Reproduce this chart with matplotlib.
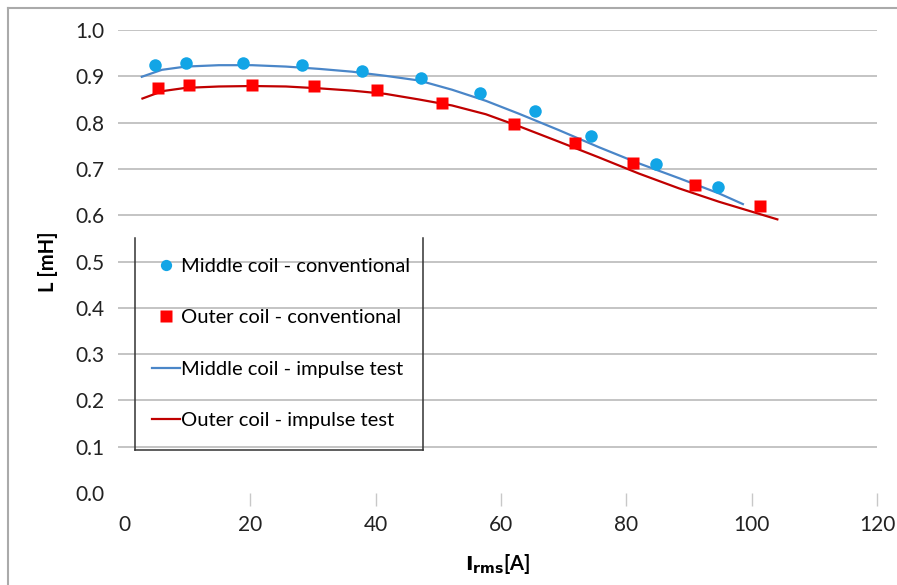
import matplotlib
matplotlib.use("Agg")
import matplotlib.pyplot as plt
from matplotlib.lines import Line2D

plt.rcParams["font.family"] = ["Lato", "DejaVu Sans"]

# measured points (conventional method)
middle_x = [4.8, 9.7, 18.9, 28.3, 37.8, 47.2, 56.6, 65.5, 74.4, 84.7, 94.7]
middle_L = [0.924, 0.928, 0.929, 0.924, 0.911, 0.897, 0.863, 0.824, 0.771, 0.710, 0.660]

outer_x = [5.3, 10.2, 20.3, 30.2, 40.3, 50.6, 62.1, 71.8, 81.1, 90.9, 101.3]
outer_L = [0.875, 0.881, 0.881, 0.879, 0.870, 0.843, 0.797, 0.757, 0.713, 0.665, 0.620]

# impulse test curves
middle_imp_x = [2.7, 5.9, 9.7, 15.0, 20.3, 25.7, 31.0, 36.2, 41.6, 46.9, 52.2,
                57.6, 62.9, 69.2, 75.6, 82.0, 88.4, 94.8, 98.6]
middle_imp_L = [0.899, 0.914, 0.921, 0.924, 0.924, 0.921, 0.916, 0.910, 0.901, 0.891, 0.871,
                0.847, 0.819, 0.784, 0.747, 0.712, 0.680, 0.647, 0.624]

outer_imp_x = [2.8, 6.0, 9.7, 15.0, 20.3, 25.7, 31.0, 36.3, 41.6, 46.9, 52.2,
               57.6, 62.9, 69.2, 75.6, 82.0, 88.4, 94.8, 104.1]
outer_imp_L = [0.852, 0.868, 0.875, 0.878, 0.879, 0.878, 0.874, 0.869, 0.862, 0.850, 0.837,
               0.818, 0.792, 0.759, 0.725, 0.690, 0.658, 0.629, 0.591]

x_ticks = [0, 20, 40, 60, 80, 100, 120]
y_ticks = [0.0, 0.1, 0.2, 0.3, 0.4, 0.5, 0.6, 0.7, 0.8, 0.9, 1.0]

BLUE_PT = "#12a5e6"
RED_PT = "#ff0000"
BLUE_LN = "#4a86c8"
RED_LN = "#c00000"

fig = plt.figure(figsize=(8.97, 5.85), dpi=100)
ax = fig.add_axes([118 / 897, 1 - 493 / 585, 759 / 897, 463 / 585])

for y in y_ticks[1:]:
    ax.axhline(y, color="#b4b4b4", lw=1.1, zorder=0)

l_mid, = ax.plot(middle_imp_x, middle_imp_L, color=BLUE_LN, lw=1.6, zorder=2)
l_out, = ax.plot(outer_imp_x, outer_imp_L, color=RED_LN, lw=1.6, zorder=2)
s_mid, = ax.plot(middle_x, middle_L, "o", color=BLUE_PT, ms=9, mec="none", zorder=3)
s_out, = ax.plot(outer_x, outer_L, "s", color=RED_PT, ms=9, mec="none", zorder=3)

ax.set_xlim(-1.1, 120)
ax.set_ylim(0, 1.0)
ax.set_xticks(x_ticks)
ax.set_yticks(y_ticks)
ax.set_yticklabels([f"{v:.1f}" for v in y_ticks])
for s in ax.spines.values():
    s.set_visible(False)
ax.tick_params(axis="y", length=0, pad=10, labelsize=15, labelcolor="#222222")
ax.tick_params(axis="x", length=9, width=1, color="#c8c8c8", pad=7, labelsize=15,
               labelcolor="#222222")
ax.xaxis.get_major_ticks()[0].tick1line.set_visible(False)

ax.set_ylabel("L [mH]", fontsize=14.5, fontweight="bold", labelpad=12)
ax.set_xlabel(r"$\mathbf{I_{rms}}$[A]", fontsize=14.5, fontweight="bold", labelpad=12)

leg = ax.legend([s_mid, s_out, l_mid, l_out],
                ["Middle coil - conventional", "Outer coil - conventional",
                 "Middle coil - impulse test", "Outer coil - impulse test"],
                loc="center left", bbox_to_anchor=(0.0448, 0.323),
                frameon=False, fontsize=14.5, handlelength=1.4,
                handletextpad=0.05, labelspacing=1.69, borderpad=0.0, borderaxespad=0.0,
                markerscale=0.9)

# legend box: left, right and bottom edges only
x0, x1 = 0.0224, 0.402
y0, y1 = 0.093, 0.551
for xs, ys in [([x0, x0], [y0, y1]), ([x1, x1], [y0, y1]), ([x0, x1], [y0, y0])]:
    ax.add_line(Line2D(xs, ys, transform=ax.transAxes, color="#333333", lw=1.1, zorder=4))

# outer frame (left and top)
fig.add_artist(Line2D([8 / 897, 8 / 897], [0, 1 - 8 / 585], color="#aaaaaa", lw=1.5))
fig.add_artist(Line2D([8 / 897, 1], [1 - 8 / 585, 1 - 8 / 585], color="#aaaaaa", lw=1.5))

fig.savefig("out.png", dpi=100)
